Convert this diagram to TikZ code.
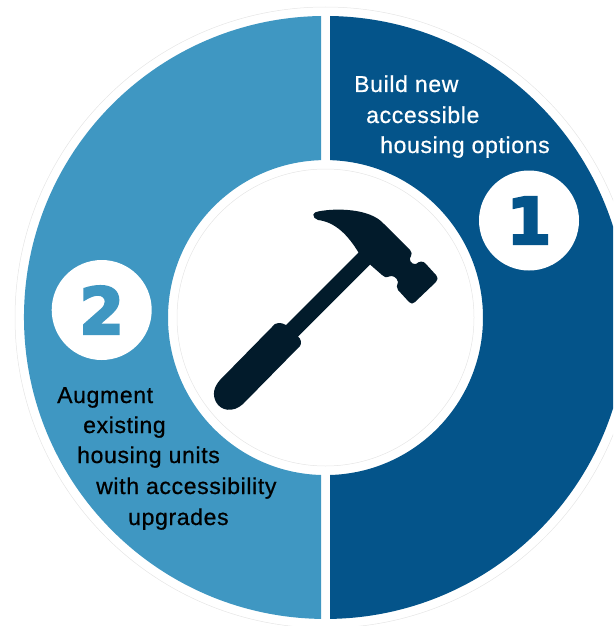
\documentclass[tikz,border=0pt]{standalone}
\usepackage{fontspec}
\setmainfont{Liberation Sans}
\newfontfamily\labelfont[FakeBold=0.7,LetterSpace=2.8]{Liberation Sans}
\newfontfamily\digitfont[BoldFeatures={FakeBold=4}]{DejaVu Sans}
\definecolor{darkseg}{HTML}{04548A}
\definecolor{lightseg}{HTML}{3F97C2}
\definecolor{hammerblack}{HTML}{021B2B}
\tikzset{ringline/.style = {draw=gray!20,line width=0.5pt}}
\tikzset{badge/.style = {shape=circle,fill=white,minimum size=100pt,inner sep=0pt}}
\tikzset{digit/.style = {font=\digitfont\bfseries\fontsize{64}{64}\selectfont}}
\tikzset{label/.style = {anchor=base west,inner sep=0pt,font=\labelfont\fontsize{23}{26}\selectfont}}

\begin{document}
\begin{tikzpicture}[x=1pt,y=-1pt]
            \useasboundingbox (0,0) rectangle (613,626);
            \clip (0,0) rectangle (613,626);

            % Rings
            \coordinate (m) at (325.5,317.5);
            \draw[ringline] (m) circle[radius=310.5pt];
            \draw[ringline] (m) circle[radius=148.5pt];

            % Segments
            \fill[darkseg] (330,16) arc[start angle=89.15,end angle=-89.15,radius=301.5pt]
                -- (330,475) arc[start angle=-88.36,end angle=88.36,radius=157.5pt] -- cycle;
            \fill[lightseg] (321,16) arc[start angle=90.85,end angle=269.15,radius=301.5pt]
                -- (321,475) arc[start angle=268.36,end angle=91.64,radius=157.5pt] -- cycle;

            % Badges
            \node[badge,digit,text=darkseg] (one) at (529,220.5) {\raisebox{-1.5pt}{1}};
            \node[badge,digit,text=lightseg] (two) at (101.7,310) {\raisebox{-1.5pt}{2}};

            % Labels
            \node[label,text=white] (build) at (354,92) {Build new};
            \node[label,text=white] (access) at (366,123) {accessible};
            \node[label,text=white] (options) at (380,153) {housing options};
            \node[label] (augment) at (57,403) {Augment};
            \node[label] (existing) at (83,433) {existing};
            \node[label] (units) at (77,463) {housing units};
            \node[label] (upgr) at (96,494) {with accessibility};
            \node[label] (grades) at (128,525) {upgrades};

            % Hammer
            \fill[hammerblack] (313.3,214.5)
                .. controls (314,212.5) and (316,212) .. (318,211.5)
                .. controls (335,208) and (370,208) .. (384,224)
                -- (410,250)
                .. controls (412,252) and (412,254) .. (411,256)
                .. controls (408,259) and (411,265) .. (416,264)
                .. controls (419,261) and (423,261) .. (425,263)
                -- (436,275)
                .. controls (438,278) and (438,280) .. (436,282)
                -- (415,302)
                .. controls (413,304) and (411,304) .. (409,302)
                -- (398,290)
                .. controls (396,288) and (397,285) .. (398,282)
                .. controls (397,277) and (392,275) .. (389,276.5)
                .. controls (386,278) and (384,277) .. (382,275)
                -- (370,264.5)
                -- (298,336.5)
                .. controls (301,339) and (302,343) .. (300,346)
                -- (243,404)
                .. controls (233,413) and (221,411) .. (216,402)
                .. controls (212,394) and (214,387) .. (220,380)
                -- (272,327)
                .. controls (275,322) and (281,322) .. (286,325)
                -- (358.5,252.5)
                .. controls (348,235) and (335,222) .. (318,220)
                .. controls (315,219) and (313,217) .. (313.3,214.5)
                -- cycle;
        \end{tikzpicture}
\end{document}
